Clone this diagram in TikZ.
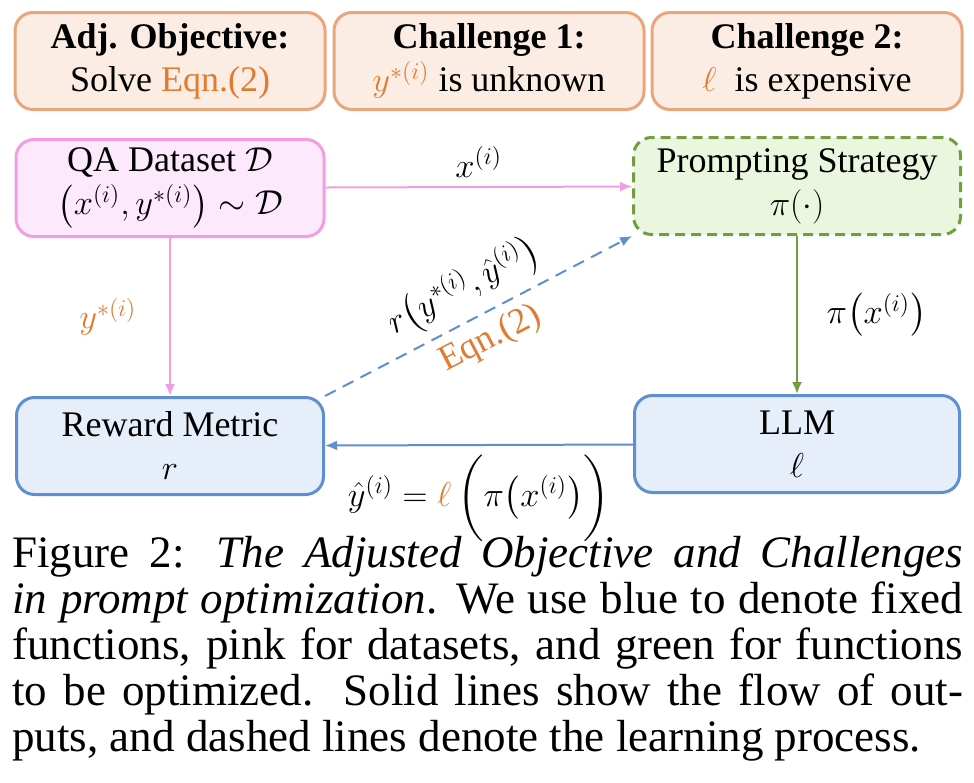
\documentclass[tikz,border=0pt]{standalone}
\usepackage{amsmath}
\usepackage{amssymb}
\usepackage{fontspec}
\setmainfont{Liberation Serif}
\usetikzlibrary{arrows.meta,positioning}
\definecolor{eqnorange}{HTML}{E07B2F}
\definecolor{goalfill}{HTML}{FBEDE3}
\definecolor{goalline}{HTML}{E9A67D}
\definecolor{datafill}{HTML}{FCE9FB}
\definecolor{dataline}{HTML}{F29CE3}
\definecolor{optfill}{HTML}{EBF6DF}
\definecolor{optline}{HTML}{6F9F3F}
\definecolor{fixfill}{HTML}{E5EEF9}
\definecolor{fixline}{HTML}{5E8FD1}
\tikzset{
  block/.style={draw, line width=1.5pt, rounded corners=9pt, align=center, minimum height=48.5pt, inner sep=2pt, font=\fontsize{18}{21.5}\selectfont},
  goalblock/.style={block, fill=goalfill, draw=goalline, minimum width=155pt},
  datablock/.style={block, fill=datafill, draw=dataline, minimum width=154pt},
  optblock/.style={block, fill=optfill, draw=optline, dash pattern=on 5pt off 3pt, minimum width=163.5pt},
  fixblock/.style={block, fill=fixfill, draw=fixline, minimum width=153.5pt},
  flow/.style={-{Latex[length=6pt, width=5pt]}, line width=1pt},
  tag/.style={text=black, font=\fontsize{18}{21.5}\selectfont}
}

\begin{document}
\begin{tikzpicture}[x=0.5pt, y=-0.5pt, node distance=5pt and 5pt]
\useasboundingbox (0,0) rectangle (974,782);
\node[goalblock] (objective) at (170,61) {\textbf{Adj. Objective:}\\Solve \textcolor{eqnorange}{Eqn.(2)}};
\node[goalblock] (unknown) at (489,61) {\textbf{Challenge 1:}\\\textcolor{eqnorange}{$y^{*(i)}$} is unknown};
\node[goalblock] (costly) at (807,61) {\textbf{Challenge 2:}\\\textcolor{eqnorange}{$\ell$}\ \ is expensive};
\node[datablock, below=13.5pt of objective] (dataset) {QA Dataset $\mathcal{D}$\\$\left(x^{(i)},y^{*(i)}\right)\sim\mathcal{D}$};
\node[optblock] (strategy) at (797,186) {Prompting Strategy\\$\pi(\cdot)$};
\node[fixblock, below=79pt of dataset] (reward) {Reward Metric\\$r$};
\node[fixblock, minimum width=162.5pt, below=79pt of strategy] (llm) {LLM\\$\ell$};
\draw[flow, dataline] (dataset) -- node[tag, above=1pt] {$x^{(i)}$} (strategy);
\draw[flow, dataline] (dataset) -- node[tag, left=13pt, text=eqnorange] {$y^{*(i)}$} (reward);
\draw[flow, optline] (strategy) -- node[tag, right=11pt] {$\pi\bigl(x^{(i)}\bigr)$} (llm);
\draw[flow, fixline] (llm) -- node[tag, below=1pt] {$\hat{y}^{(i)}=\textcolor{eqnorange}{\ell}\,\biggl(\pi\bigl(x^{(i)}\bigr)\biggr)$} (reward);
\draw[flow, fixline, dash pattern=on 6pt off 4pt] (reward.north east) -- node[tag, midway, sloped, above=1pt] {$r\bigl(y^{*(i)},\hat{y}^{(i)}\bigr)$} node[tag, midway, sloped, below=1pt, text=eqnorange] {Eqn.(2)} (strategy.south west);
\node[anchor=base west, text width=475.5pt, align=justify, inner sep=0pt, font=\fontsize{22.5}{23}\selectfont] (caption) at (12,567) {Figure 2: \textit{The Adjusted Objective and Challenges}\linebreak \textit{in prompt optimization}. We use blue to denote fixed\linebreak functions, pink for datasets, and green for functions\linebreak to be optimized. Solid lines show the flow of out-\linebreak puts, and dashed lines denote the learning process.};
\end{tikzpicture}
\end{document}
